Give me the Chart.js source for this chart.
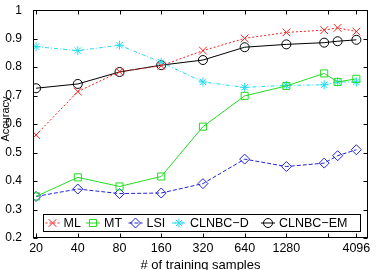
<!DOCTYPE html>
<html>
<head>
<meta charset="utf-8">
<script src="https://cdn.jsdelivr.net/npm/chart.js@4/dist/chart.umd.min.js"></script>
<style>
  html, body { margin: 0; padding: 0; background: #fff; }
  canvas { display: block; }
</style>
</head>
<body>
<canvas id="chart" width="376" height="270"></canvas>
<script>
// training-set sizes (x) and accuracy per method
const sampleSizes = [20, 40, 80, 160, 320, 640, 1280, 2400, 3000, 4096];
const mlAcc = [0.562, 0.714, 0.784, 0.805, 0.858, 0.901, 0.922, 0.930, 0.938, 0.925];
const mtAcc = [0.346, 0.413, 0.381, 0.416, 0.591, 0.699, 0.734, 0.778, 0.748, 0.759];
const lsiAcc = [0.346, 0.372, 0.356, 0.358, 0.391, 0.477, 0.451, 0.463, 0.489, 0.510];
const clnbcDAcc = [0.872, 0.858, 0.877, 0.817, 0.748, 0.729, 0.736, 0.738, 0.748, 0.748];
const clnbcEmAcc = [0.726, 0.741, 0.783, 0.807, 0.825, 0.870, 0.880, 0.886, 0.891, 0.896];

const seriesNames = ["ML", "MT", "LSI", "CLNBC\u2212D", "CLNBC\u2212EM"];

const xTicks = [20, 40, 80, 160, 320, 640, 1280, 2560, 4096];
const xTickLabels = ["20", "40", "80", "160", "320", "640", "1280", "", "4096"];
const yTicks = [0.2, 0.3, 0.4, 0.5, 0.6, 0.7, 0.8, 0.9, 1];
const yTickLabels = ["0.2", "0.3", "0.4", "0.5", "0.6", "0.7", "0.8", "0.9", "1"];

const FONT = "Liberation Sans";
Chart.defaults.font.family = FONT;
Chart.defaults.color = "#000";

const styles = [
  { color: "#ee2222", dash: [2, 2], point: "crossRot", radius: 5.5 },
  { color: "#22dd22", dash: [], point: "rect", radius: 5 },
  { color: "#2222dd", dash: [4, 2], point: "rectRot", radius: 5 },
  { color: "#22ddee", dash: [4, 2, 1, 2], point: "star", radius: 4.5 },
  { color: "#000000", dash: [], point: "circle", radius: 4.5 }
];
const seriesValues = [mlAcc, mtAcc, lsiAcc, clnbcDAcc, clnbcEmAcc];

function makeDataset(i) {
  const s = styles[i];
  return {
    label: seriesNames[i],
    data: sampleSizes.map((x, k) => ({ x: x, y: seriesValues[i][k] })),
    borderColor: s.color,
    backgroundColor: "rgba(0,0,0,0)",
    borderWidth: 1,
    borderDash: s.dash,
    pointStyle: s.point,
    pointRadius: s.radius,
    pointBorderColor: s.color,
    pointBackgroundColor: "rgba(0,0,0,0)",
    pointBorderWidth: 1,
    tension: 0,
    fill: false
  };
}

function drawMarker(ctx, s, x, y) {
  ctx.save();
  ctx.setLineDash([]);
  ctx.strokeStyle = s.color;
  ctx.fillStyle = "rgba(0,0,0,0)";
  ctx.lineWidth = 1;
  Chart.helpers.drawPoint(ctx, { pointStyle: s.point, radius: s.radius, borderWidth: 1, rotation: 0 }, x, y);
  ctx.restore();
}

const framePlugin = {
  id: "frame",
  afterDraw(chart) {
    const { ctx, chartArea: a, scales } = chart;
    const L = Math.round(a.left) + 0.5, R = Math.round(a.right) - 0.5;
    const T = Math.round(a.top) + 0.5, B = Math.round(a.bottom) - 0.5;
    ctx.save();
    ctx.strokeStyle = "#000";
    ctx.lineWidth = 1;
    ctx.setLineDash([]);
    ctx.strokeRect(L, T, R - L, B - T);
    ctx.beginPath();
    xTicks.forEach((v) => {
      const px = Math.round(scales.x.getPixelForValue(v)) + 0.5;
      ctx.moveTo(px, B); ctx.lineTo(px, B - 4);
      ctx.moveTo(px, T); ctx.lineTo(px, T + 4);
    });
    yTicks.forEach((v) => {
      const py = Math.round(scales.y.getPixelForValue(v)) + 0.5;
      ctx.moveTo(L, py); ctx.lineTo(L + 4, py);
      ctx.moveTo(R, py); ctx.lineTo(R - 4, py);
    });
    ctx.stroke();

    // x tick labels
    ctx.fillStyle = "#000";
    ctx.font = "12.5px " + FONT;
    ctx.textAlign = "center";
    ctx.textBaseline = "middle";
    xTicks.forEach((v, i) => {
      ctx.fillText(xTickLabels[i], scales.x.getPixelForValue(v), 248.5);
    });

    // legend box inside the axes
    const bx = 43.5, by = 214.5, bw = 317, bh = 17;
    ctx.fillStyle = "#fff";
    ctx.fillRect(bx, by, bw, bh);
    ctx.strokeRect(bx, by, bw, bh);
    const textX = [63.5, 104, 146.5, 190, 279];
    const cy = by + bh / 2;
    ctx.font = "12.5px " + FONT;
    ctx.textBaseline = "middle";
    ctx.textAlign = "left";
    styles.forEach((s, i) => {
      const x0 = textX[i] - 18, x1 = textX[i] - 4;
      ctx.save();
      ctx.strokeStyle = s.color;
      ctx.setLineDash(s.dash);
      ctx.beginPath();
      ctx.moveTo(x0, cy); ctx.lineTo(x1, cy);
      ctx.stroke();
      ctx.restore();
      drawMarker(ctx, s, (x0 + x1) / 2, cy);
      ctx.fillStyle = "#000";
      ctx.fillText(seriesNames[i], textX[i], cy + 0.5);
    });

    // axis titles
    ctx.fillStyle = "#000";
    ctx.font = "13px " + FONT;
    ctx.textAlign = "center";
    ctx.textBaseline = "top";
    ctx.fillText("# of training samples", (a.left + a.right) / 2, 259);
    ctx.save();
    ctx.translate(6, 119);
    ctx.rotate(-Math.PI / 2);
    ctx.font = "11px " + FONT;
    ctx.textBaseline = "middle";
    ctx.fillText("Accuracy", 0, 0);
    ctx.restore();
    ctx.restore();
  }
};

new Chart(document.getElementById("chart"), {
  type: "line",
  data: { datasets: [0, 1, 2, 3, 4].map(makeDataset) },
  options: {
    responsive: false,
    animation: false,
    layout: { padding: { left: 0, top: 10, right: 8, bottom: 0 } },
    plugins: { legend: { display: false }, tooltip: { enabled: false } },
    scales: {
      x: {
        type: "logarithmic",
        min: 19,
        max: 4970,
        afterBuildTicks: (s) => { s.ticks = xTicks.map((v) => ({ value: v })); },
        afterFit: (s) => { s.height = 32; },
        grid: { display: false },
        border: { display: false },
        ticks: { display: false, autoSkip: false, maxRotation: 0 }
      },
      y: {
        type: "linear",
        min: 0.2,
        max: 1,
        afterBuildTicks: (s) => { s.ticks = yTicks.map((v) => ({ value: v })); },
        afterFit: (s) => { s.width = 33; },
        grid: { display: false },
        border: { display: false },
        ticks: {
          padding: 3,
          font: { size: 12 },
          color: "#000",
          callback: (v, i) => yTickLabels[i]
        }
      }
    }
  },
  plugins: [framePlugin]
});
</script>
</body>
</html>
